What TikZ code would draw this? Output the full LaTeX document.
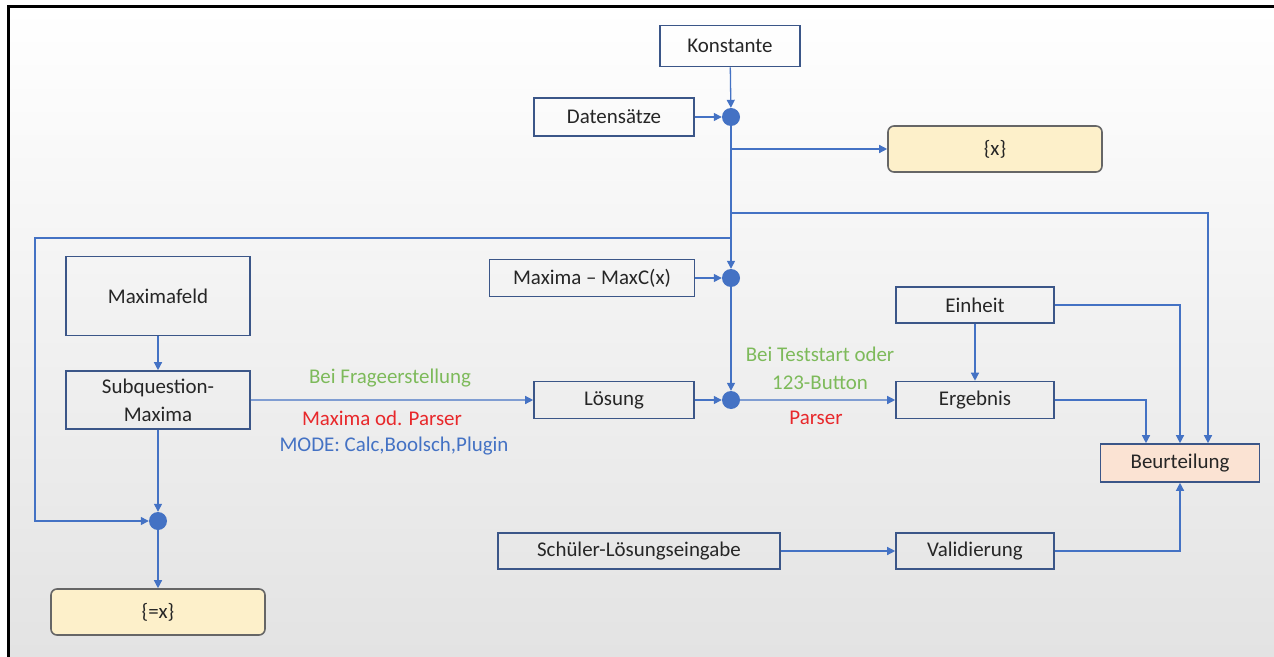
\documentclass[tikz,border=0pt]{standalone}
\usepackage{fontspec}
\setmainfont{Carlito}
\usetikzlibrary{arrows.meta,positioning}
\definecolor{linie}{HTML}{4472C4}
\definecolor{rahmen}{HTML}{3B5688}
\definecolor{gelb}{HTML}{FDF0CA}
\definecolor{lachs}{HTML}{FBE3D3}
\definecolor{gruen}{HTML}{7DBA5A}
\definecolor{rot}{HTML}{E8282B}
\definecolor{schrift}{HTML}{262626}

\begin{document}
\begin{tikzpicture}[x=1bp,y=-1bp,
    txt/.style={font=\fontsize{21}{28}\selectfont,align=center,inner sep=0pt},
    box/.style={txt,draw=rahmen,line width=1.6bp,text=schrift},
    ergbox/.style={box,rounded corners=6bp,draw=black!60,fill=gelb},
    knoten/.style={circle,fill=linie,minimum size=18bp,inner sep=0pt},
    arr/.style={draw=linie,line width=1.3bp,-{Triangle[length=8bp,width=8bp]}}]
  \useasboundingbox (0,0) rectangle (1274,657);
  \fill[white] (0,0) rectangle (1274,657);
  \shade[top color=white,bottom color=black!11] (8,7) rectangle (1274,657);
  \draw[line width=3bp] (8,657) -- (8,7) -- (1274,7);

  \node[box,minimum width=140bp,minimum height=41bp] (konst) at (730,46) {Konstante};
  \node[box,minimum width=160bp,minimum height=38bp] (daten) at (614,117) {Datensätze};
  \node[knoten] (j1) at (731,117) {};
  \node[ergbox,minimum width=214bp,minimum height=46bp] (xbox) at (995,149) {\{x\}};
  \node[box,minimum width=205bp,minimum height=37bp] (maxc) at (592,278) {Maxima – MaxC(x)};
  \node[knoten] (j2) at (731,278) {};
  \node[box,minimum width=184bp,minimum height=79bp] (mfeld) at (158,296) {Maximafeld};
  \node[box,minimum width=184bp,minimum height=58bp,below of=mfeld,node distance=104bp] (subq) {Subquestion-\\Maxima};
  \node[knoten] (j3) at (158,521) {};
  \node[ergbox,minimum width=214bp,minimum height=46bp] (eqx) at (158,612) {\{=x\}};
  \node[box,minimum width=160bp,minimum height=37bp] (loesung) at (614,400) {Lösung};
  \node[knoten] (j4) at (731,400) {};
  \node[box,minimum width=158bp,minimum height=36bp] (einheit) at (975,305) {Einheit};
  \node[box,minimum width=158bp,minimum height=37bp,below of=einheit,node distance=95bp] (ergebnis) {Ergebnis};
  \node[box,minimum width=159bp,minimum height=38bp,fill=lachs] (beurt) at (1180,463) {Beurteilung};
  \node[box,minimum width=282bp,minimum height=36bp] (schueler) at (639,551) {Schüler-Lösungseingabe};
  \node[box,minimum width=158bp,minimum height=36bp] (valid) at (975,551) {Validierung};

  \node[txt,text=gruen] (frage) at (390,378) {Bei Frageerstellung};
  \node[txt,text=rot] (parser1) at (382,418) {Maxima od. Parser};
  \node[txt,text=linie] (mode) at (394,446) {MODE: Calc,Boolsch,Plugin};
  \node[txt,text=gruen] (test) at (820,368) {Bei Teststart oder\\123-Button};
  \node[txt,text=rot] (parser2) at (816,418) {Parser};

  \coordinate (abzw1) at (731,149);
  \coordinate (abzw2) at (731,213);
  \coordinate (abzw3) at (731,238);
  \coordinate (links) at (35,238);

  \draw[arr] (konst) -- (j1);
  \draw[arr] (daten) -- (j1);
  \draw[arr] (j1) -- (j2);
  \draw[arr] (abzw1) -- (xbox);
  \draw[arr] (abzw2) -| ([xshift=28bp]beurt.north);
  \draw[arr] (abzw3) -- (links) |- (j3);
  \draw[arr] (maxc) -- (j2);
  \draw[arr] (j2) -- (j4);
  \draw[arr] (mfeld) -- (subq);
  \draw[arr] (subq) -- (j3);
  \draw[arr] (j3) -- (eqx);
  \draw[arr] (subq) -- (loesung);
  \draw[arr] (loesung) -- (j4);
  \draw[arr] (j4) -- (ergebnis);
  \draw[arr] (einheit) -- (ergebnis);
  \draw[arr] (einheit) -| (beurt.north);
  \draw[arr] (ergebnis) -| ([xshift=-34bp]beurt.north);
  \draw[arr] (schueler) -- (valid);
  \draw[arr] (valid) -| (beurt);
\end{tikzpicture}
\end{document}
